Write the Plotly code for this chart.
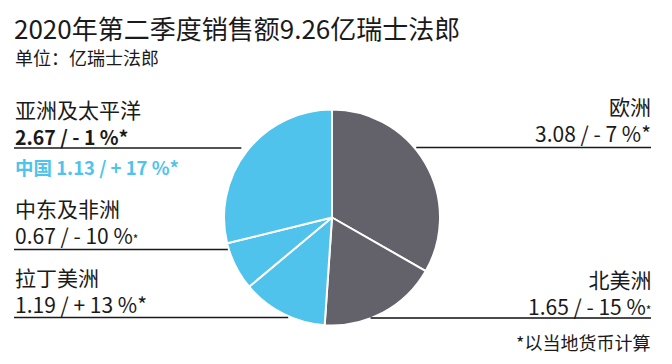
import plotly.graph_objects as go
import math

W, H = 672, 364

regions = ["欧洲", "北美洲", "拉丁美洲", "中东及非洲", "亚洲及太平洋"]
sales = [3.08, 1.65, 1.19, 0.67, 2.67]
changes = ["- 7", "- 15", "+ 13", "- 10", "- 1"]
china_sales = 1.13
china_change = "+ 17"
total = 9.26

GRAY = "#636169"
CYAN = "#4fc3ec"
colors = [GRAY, GRAY, CYAN, CYAN, CYAN]
FONT = "Noto Sans CJK SC, Noto Sans, sans-serif"

# pie geometry (pixels)
cx, cy, r = 332, 217.5, 108

def px(x):
    return x / W

def py(y):
    return 1 - y / H

fig = go.Figure(go.Pie(
    labels=regions, values=sales, sort=False, direction="clockwise", rotation=0,
    marker=dict(colors=colors, line=dict(color="white", width=2)),
    textinfo="none", hoverinfo="label+value",
    domain=dict(x=[px(cx - r), px(cx + r)], y=[py(cy + r), py(cy - r)]),
    showlegend=False,
))

ann = []

def add(text, x, y, size, color="#1a1a1a", anchor="left"):
    ann.append(dict(text=text, x=px(x), y=py(y), xref="paper", yref="paper",
                    xanchor=anchor, yanchor="middle", showarrow=False,
                    borderpad=0, align=anchor,
                    font=dict(family=FONT, size=size, color=color)))

SZ = 21

add(f"2020年第二季度销售额{total}亿瑞士法郎", 13, 28, 26)
add("单位：亿瑞士法郎", 14, 57, 18)

def val(i, small=False):
    star = "<span style='font-size:12px'>*</span>" if small else "*"
    return f"{sales[i]:.2f} / {changes[i]} %{star}"

# left labels
add(regions[4] + "<br><span style='font-size:19.5px'><b>" + val(4) + "</b></span>", 14, 122.5, SZ)
add(f"<b>中国 {china_sales:.2f} / {china_change} %*</b>", 14, 167, 18.5, color=CYAN)
add(regions[3] + "<br>" + val(3, small=True), 14, 221.5, SZ)
add(regions[2] + "<br>" + val(2), 14, 290.5, SZ)
# right labels
add(regions[0] + "<br>" + val(0), 652, 119.5, SZ, anchor="right")
add(regions[1] + "<br>" + val(1, small=True), 652, 292.5, SZ, anchor="right")
add("*以当地货币计算", 651, 342, 18, anchor="right")

def edge_x(y, side):
    dy = y - cy
    dx = math.sqrt(max(r * r - dy * dy, 0))
    return cx - dx if side == "left" else cx + dx

shapes = []
def hline(x0, x1, y, color="#1a1a1a", w=1.5):
    shapes.append(dict(type="line", xref="paper", yref="paper",
                       x0=px(x0), x1=px(x1), y0=py(y), y1=py(y),
                       line=dict(color=color, width=w)))

hline(14, edge_x(148, "left") - 8, 148)
hline(14, edge_x(249.5, "left") - 1, 249.5)
hline(14, edge_x(317.5, "left") - 3, 317.5)
hline(edge_x(147.5, "right") + 2, 651, 147.5)
hline(edge_x(318, "right") - 1, 651, 318, color="#4a4a4a", w=2)

fig.update_layout(
    width=W, height=H, margin=dict(l=0, r=0, t=0, b=0),
    paper_bgcolor="white", plot_bgcolor="white",
    annotations=ann, shapes=shapes,
)

fig.write_html("out.html")
